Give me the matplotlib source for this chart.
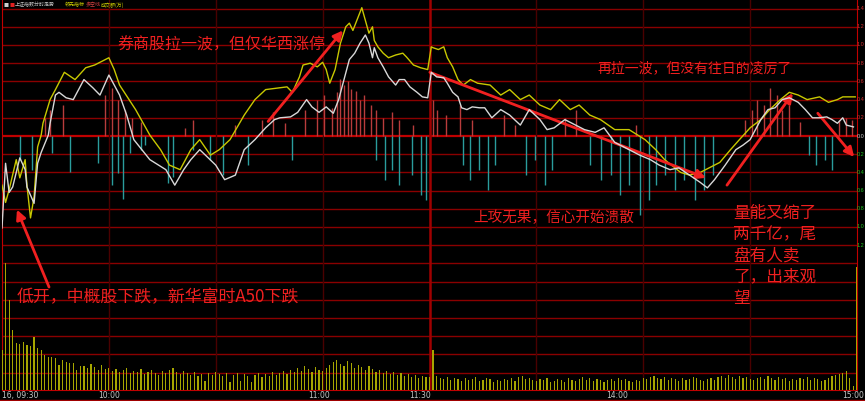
import matplotlib
matplotlib.use('Agg')
import matplotlib.pyplot as plt
from matplotlib.lines import Line2D
from matplotlib.transforms import blended_transform_factory

plt.rcParams['font.family'] = ['Noto Sans CJK SC', 'DejaVu Sans']

# minutes from 09:30 (0..120 morning, 120..240 afternoon), values in % vs prev close
white_t = [0, 1, 2, 3, 5, 6.5, 7, 9, 10, 11, 13, 13.5, 15, 16, 18, 20, 23, 25.5, 27.5, 30,
           33, 35, 37, 41.5, 46, 48.5, 51, 53, 55.5, 60, 62.5, 65.5, 68, 71, 74, 76.5, 78, 81, 83, 85.5,
           87, 89, 91, 93, 94.5, 96, 97.5, 99, 100.5, 102, 103, 104, 104.5, 105.5, 107, 108.5, 110.5, 111.5, 113, 114.5,
           116.5, 118, 119.5,
           120.5, 122, 124, 125, 126.5, 128, 129, 130.5, 132, 134, 135.5, 137.5, 140, 142.5, 145.5, 148, 151, 153, 155, 158,
           161, 163.5, 166.5, 169, 172, 175, 179, 182, 184.5, 187.5, 190, 193, 196, 198, 200, 203, 206, 208, 210, 213,
           215, 217, 219, 221, 223.5, 225.5, 227.5, 229.5, 231.5, 233, 234.5, 236, 237, 239]
white_v = [-1.01, -0.30, -0.62, -0.56, -0.24, -0.37, -0.56, -0.74, -0.30, -0.18, 0.01, 0.14, 0.45, 0.48, 0.42, 0.40, 0.62, 0.53, 0.45, 0.67,
           0.45, 0.23, -0.04, -0.26, -0.37, -0.54, -0.37, -0.26, -0.15, -0.32, -0.48, -0.43, -0.15, -0.04, 0.09, 0.18, 0.20, 0.21, 0.26, 0.40,
           0.32, 0.26, 0.32, 0.25, 0.40, 0.62, 0.84, 0.91, 1.02, 1.11, 1.02, 0.86, 0.97, 0.86, 0.76, 0.65, 0.56, 0.62, 0.62, 0.54,
           0.48, 0.43, 0.42,
           0.70, 0.65, 0.64, 0.58, 0.48, 0.43, 0.31, 0.29, 0.32, 0.31, 0.31, 0.20, 0.29, 0.23, 0.12, 0.29, 0.18, 0.07, 0.09, 0.18,
           0.12, 0.07, 0.04, 0.09, -0.07, -0.13, -0.21, -0.26, -0.32, -0.37, -0.35, -0.43, -0.51, -0.57, -0.48, -0.32, -0.15, -0.10, -0.04, 0.18,
           0.29, 0.31, 0.40, 0.42, 0.37, 0.29, 0.20, 0.20, 0.21, 0.18, 0.14, 0.20, 0.12, 0.10]

yellow_t = [0, 1, 2, 4, 5, 6.5, 7, 8, 9, 10, 11, 11.5, 13.5, 15, 17.5, 20.5, 23.5, 26, 30, 31.5,
            33, 37.5, 41.5, 44.5, 47, 50, 53, 55.5, 58.5, 61, 64, 68, 71, 74, 78, 80, 81.5, 83.5, 84.5, 86.5,
            88.5, 90, 91, 92, 93.5, 95, 96.5, 97.5, 98.5, 100, 101, 102, 103, 104, 104.5, 105.5, 107, 108.5, 110.5, 112.5,
            113.5, 115.5, 117.5, 119.5,
            120.5, 121, 122.5, 124, 125, 126.5, 128, 129.5, 131.5, 133.5, 137, 140, 142.5, 145.5, 148, 151, 154, 156.5, 159.5, 162,
            165, 168, 172, 176, 180.5, 183.5, 186, 190.5, 193, 196, 198.5, 201.5, 204.5, 207, 210, 213, 215.5, 218.5, 221, 223.5,
            226, 229.5, 232, 234.5, 236, 239.5]
yellow_v = [-0.54, -0.73, -0.59, -0.26, -0.46, -0.26, -0.54, -0.90, -0.67, -0.12, 0.01, 0.14, 0.40, 0.51, 0.70, 0.62, 0.75, 0.78, 0.86, 0.73,
            0.56, 0.29, 0.01, -0.15, -0.32, -0.37, -0.15, -0.04, -0.21, -0.15, -0.04, 0.23, 0.40, 0.51, 0.53, 0.54, 0.48, 0.65, 0.78, 0.80,
            0.76, 0.81, 0.73, 0.58, 0.73, 1.02, 1.20, 1.24, 1.16, 1.31, 1.41, 1.27, 1.13, 1.20, 1.05, 0.98, 0.91, 0.86, 0.89, 0.91,
            0.87, 0.78, 0.75, 0.73,
            0.98, 0.97, 0.95, 0.98, 0.86, 0.76, 0.62, 0.56, 0.62, 0.58, 0.56, 0.45, 0.51, 0.40, 0.45, 0.34, 0.29, 0.40, 0.29, 0.34,
            0.23, 0.18, 0.07, 0.07, -0.04, -0.15, -0.26, -0.40, -0.43, -0.40, -0.35, -0.29, -0.15, -0.04, 0.09, 0.18, 0.29, 0.40, 0.48, 0.45,
            0.40, 0.43, 0.37, 0.40, 0.43, 0.43]

# 多空 bars
red_t = [12, 13.5, 17, 29, 31, 32.5, 34.5, 36.5, 39, 51.5, 53.5, 65.5, 73, 76, 79.5, 85, 88.5, 90.5, 92.5, 94,
         95, 96, 97, 98, 99.5, 100.5, 101.5, 103.5, 105, 107, 109.5, 111.5, 115.5, 121, 122, 124.5, 128.5, 132, 141, 144,
         158, 161, 178, 208.5, 210.5, 212, 214, 215.5, 217.5, 219, 221, 224, 235, 237, 238.5]
red_v = [0.20, 0.29, 0.34, 0.45, 0.53, 0.40, 0.29, 0.20, 0.15, 0.09, 0.18, 0.12, 0.18, 0.26, 0.14, 0.29, 0.40, 0.45, 0.31, 0.48,
         0.63, 0.56, 0.60, 0.52, 0.50, 0.40, 0.45, 0.34, 0.29, 0.20, 0.26, 0.18, 0.12, 0.40, 0.29, 0.23, 0.34, 0.18, 0.23, 0.12,
         0.20, 0.29, 0.12, 0.18, 0.29, 0.40, 0.34, 0.53, 0.45, 0.29, 0.34, 0.15, 0.18, 0.20, 0.18]
cyan_t = [5, 8.5, 14, 19, 27, 31, 32.5, 34, 36, 39, 40, 46.5, 48, 53.5, 58.5, 62, 69, 81.5,
          105, 107.5, 109.5, 111.5, 115, 117.5, 119, 129.5, 131.5, 134, 136.5, 138.5, 147, 149.5, 152.5, 154.5, 165, 168, 171, 173.5,
          176, 179, 181.5, 183.5, 186, 189, 191.5, 194.5, 197, 199.5, 226.5, 228.5, 231, 233]
cyan_v = [-0.26, -0.37, -0.19, -0.40, -0.30, -0.54, -0.41, -0.69, -0.19, -0.15, -0.10, -0.52, -0.45, -0.15, -0.26, -0.43, -0.32, -0.26,
          -0.26, -0.48, -0.37, -0.54, -0.43, -0.65, -0.70, -0.32, -0.48, -0.37, -0.59, -0.32, -0.43, -0.26, -0.54, -0.37, -0.32, -0.48, -0.43, -0.65,
          -0.54, -0.87, -0.70, -0.54, -0.43, -0.59, -0.48, -0.70, -0.59, -0.43, -0.21, -0.32, -0.26, -0.37]

# 成交额 per minute (0..240)
vol = [40, 127, 90, 60, 47, 46, 48, 45, 44, 53,
       42, 40, 35, 33, 33, 32, 25, 30, 28, 27,
       27, 20, 24, 24, 22, 26, 23, 20, 25, 21,
       22, 19, 21, 18, 20, 22, 17, 19, 18, 21,
       16, 18, 20, 17, 15, 19, 17, 20, 22, 18,
       16, 19, 17, 15, 18, 14, 16, 9, 17, 15,
       18, 16, 14, 17, 8, 15, 17, 9, 16, 14,
       8, 15, 17, 13, 16, 14, 18, 15, 17, 19,
       16, 20, 18, 22, 19, 24, 21, 18, 23, 20,
       19, 22, 25, 28, 30, 26, 24, 29, 27, 22,
       25, 23, 20, 24, 21, 18, 20, 17, 19, 16,
       18, 15, 17, 14, 16, 13, 15, 12, 14, 13,
       13, 40, 14, 12, 11, 13, 10, 12, 11, 9,
       12, 10, 11, 13, 9, 10, 12, 11, 8, 10,
       9, 11, 10, 12, 9, 13, 14, 11, 12, 10,
       9, 11, 10, 12, 8, 9, 11, 10, 8, 12,
       10, 9, 11, 13, 10, 12, 9, 11, 10, 8,
       10, 11, 9, 12, 10, 11, 9, 8, 10, 9,
       12, 11, 13, 14, 12, 11, 13, 10, 12, 11,
       9, 12, 10, 11, 13, 12, 10, 9, 11, 12,
       10, 13, 14, 12, 15, 13, 11, 14, 12, 13,
       11, 10, 12, 13, 11, 14, 12, 10, 13, 11,
       12, 9, 11, 10, 12, 11, 13, 10, 12, 11,
       9, 10, 12, 14, 15, 16, 17, 19, 12, 4,
       123]

right_ticks = [1.4, 1.2, 1.0, 0.8, 0.6, 0.4, 0.2, 0.0, -0.2, -0.4, -0.6, -0.8, -1.0, -1.2]
time_labels = [("16, 09:30", 0, 'left'), ("10:00", 30, 'center'), ("11:00", 89, 'center'),
               ("11:30", 117.3, 'center'), ("14:00", 172.6, 'center')]

fig = plt.figure(figsize=(8.65, 4.01), dpi=100, facecolor='black')
ax = fig.add_axes([2/865, 11/401, 855/865, 390/401])
ax.set_facecolor('black')
ax.set_xlim(0, 240)
ax.set_ylim(-254/91, 136/91)

for i in range(-13, 8):
    if i == 0:
        ax.axhline(0, color='#c00000', lw=1.6, zorder=1)
    else:
        ax.axhline(i*0.2, color='#8a0000', lw=1, zorder=1)
for m in [30, 60, 90, 150, 180, 210]:
    ax.axvline(m, color='#4a0000', lw=1, zorder=1)
ax.axvline(120, color='#a00000', lw=1.8, zorder=1)

ax.vlines(red_t, 0, red_v, color='#b83c3c', lw=1, zorder=2)
ax.vlines(cyan_t, cyan_v, 0, color='#2a9d9d', lw=1, zorder=2)
ax.plot(yellow_t, yellow_v, color='#c8c800', lw=1, zorder=3)
ax.plot(white_t, white_v, color='#d8d8d8', lw=1, zorder=4)

vax = ax.twinx()
vax.set_ylim(0, 390)
vax.bar(range(len(vol)), vol, width=0.35, color='#a6a600')
vax.axis('off')

for s in ['left', 'right', 'bottom']:
    ax.spines[s].set_color('#c00000')
ax.spines['top'].set_visible(False)
ax.set_xticks([])
ax.set_yticks([])

# right scale, squeezed into the few pixels past the frame
tr = blended_transform_factory(fig.transFigure, ax.transData)
for v in right_ticks:
    if v > 0:
        c = '#d03030'
    elif v == 0:
        c = '#c8c8c8'
    else:
        c = '#20c020'
    ax.text(864.6/865, v, "%.1f" % abs(v), transform=tr, color=c, fontsize=4,
            va='center', ha='right', family='Liberation Sans', clip_on=False)

trx = blended_transform_factory(ax.transData, fig.transFigure)
for lab, m, ha in time_labels:
    ax.text(m, 5.5/401, lab, transform=trx, color='#c8c8c8', fontsize=5.5,
            va='center', ha=ha, family='DejaVu Sans', clip_on=False)
fig.text(864.5/865, 5.5/401, "15:00", color='#c8c8c8', fontsize=5.5, va='center', ha='right',
         family='DejaVu Sans')
fig.add_artist(Line2D([0, 1], [1/401, 1/401], color='#a00000', lw=1))

# legend row
for txt, x, c in [("■", 3, '#d0d0d0'), ("■", 9, '#e02020'), ("上证指数分时走势", 15, '#c8c8c8'),
                  ("领先指标", 65, '#d0d000'), ("多空线", 86, '#d04040'), ("成交额(万)", 101, '#d0d000')]:
    fig.text(x/865, 396/401, txt, color=c, fontsize=3.6, va='center', ha='left')

red = '#f02020'
ax.text(32.3, 1.00, "券商股拉一波，但仅华西涨停", color=red, fontsize=11.5, va='center', ha='left')
ax.text(167, 0.75, "再拉一波，但没有往日的凌厉了", color=red, fontsize=10, va='center', ha='left')
ax.text(132.2, -0.90, "上攻无果，信心开始溃散", color=red, fontsize=10.5, va='center', ha='left')
ax.text(205.2, -0.76, "量能又缩了\n两千亿，尾\n盘有人卖\n了，出来观\n望", color=red, fontsize=12,
        va='top', ha='left', linespacing=1.32)
ax.text(4.2, -1.77, "低开，中概股下跌，新华富时A50下跌", color=red, fontsize=12.2, va='center', ha='left')

arrows = [((13.2, -1.66), (4.2, -0.81)), ((74.7, 0.16), (95.7, 1.16)), ((120.1, 0.70), (197.6, -0.46)),
          ((203.5, -0.54), (222, 0.47)), ((229, 0.25), (239.2, -0.23))]
for tail, head in arrows:
    ax.annotate('', xy=head, xytext=tail, annotation_clip=False,
                arrowprops=dict(arrowstyle='-|>', color=red, lw=2, mutation_scale=14, shrinkA=0, shrinkB=0))

fig.savefig('out.png', dpi=100, facecolor='black')
